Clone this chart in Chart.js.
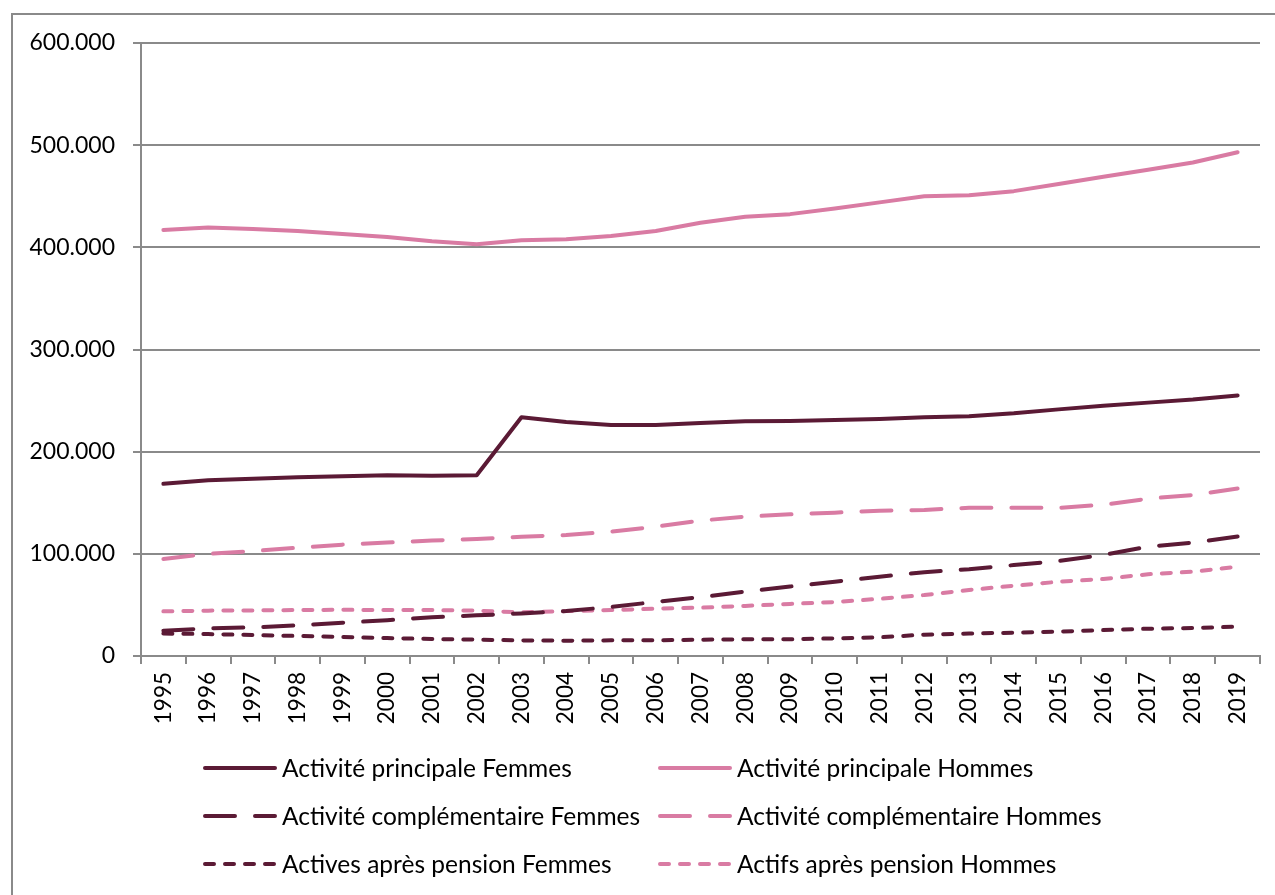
<!DOCTYPE html>
<html>
<head>
<meta charset="utf-8">
<script src="https://cdn.jsdelivr.net/npm/chart.js@4/dist/chart.umd.min.js"></script>
<style>
  html, body { margin: 0; padding: 0; background: #fff; }
  #frame {
    position: absolute; left: 11px; top: 13px; width: 1300px; height: 900px;
    border-top: 2px solid #8a8a8a; border-left: 2px solid #8a8a8a;
  }
  #chart { position: absolute; left: 0; top: 0; }
</style>
</head>
<body>
<div id="frame"></div>
<canvas id="chart" width="1275" height="895"></canvas>
<script>
// Years on the x axis
const years = ['1995', '1996', '1997', '1998', '1999', '2000', '2001', '2002', '2003', '2004',
    '2005', '2006', '2007', '2008', '2009', '2010', '2011', '2012', '2013', '2014',
    '2015', '2016', '2017', '2018', '2019'];

// Values
const principaleFemmes = [168600, 172000, 173600, 175000, 176000, 177000, 176500, 177000, 233600, 229000,
    226000, 226000, 228000, 229700, 230000, 231000, 232000, 233600, 234600, 237500,
    241400, 245000, 248000, 251000, 255000];
const principaleHommes = [417000, 419500, 418000, 416000, 413000, 410000, 406000, 403000, 407000, 408000,
    411000, 416000, 424000, 430000, 432500, 438000, 444000, 450000, 451000, 455000,
    462000, 469000, 476000, 483000, 493000];
const complementaireFemmes = [24800, 27000, 28000, 30000, 32600, 35000, 38000, 39800, 41700, 44000,
    48000, 53000, 57700, 63000, 68000, 72700, 77600, 82000, 85000, 89000,
    93000, 99000, 107000, 111000, 117000];
const complementaireHommes = [95000, 100000, 102700, 106000, 109000, 111000, 113000, 114500, 116800, 118400,
    121700, 126600, 132500, 136400, 138700, 140300, 142200, 143000, 145000, 145000,
    145000, 148000, 154000, 157600, 164000];
const pensionFemmes = [22000, 21500, 20500, 19600, 18600, 17600, 16600, 16000, 15300, 15000,
    15300, 15300, 16000, 16300, 16300, 17300, 18300, 20900, 22000, 22800,
    23800, 25400, 26700, 27400, 28700];
const pensionHommes = [43700, 44400, 44600, 45000, 45200, 45000, 45000, 44400, 42700, 44000,
    45000, 46300, 47300, 49000, 51000, 52800, 56000, 59700, 64600, 68800,
    72700, 75400, 80000, 82500, 87400];

const yTicks = [0, 100000, 200000, 300000, 400000, 500000, 600000];

const DARK = '#5b1a35';
const PINK = '#d97ba3';
const GRID = '#8a8a8a';
const FONT = 'Lato';

const longDash = [30, 20];
const shortDash = [9, 11];

function makeSet(label, values, color, dash) {
    return {
        label: label,
        data: values,
        borderColor: color,
        backgroundColor: color,
        borderWidth: 4,
        borderDash: dash,
        borderCapStyle: 'round',
        borderJoinStyle: 'round',
        pointRadius: 0,
        tension: 0,
        fill: false
    };
}

// Format 600000 -> 600.000
function formatThousands(value) {
    return String(value).replace(/\B(?=(\d{3})+(?!\d))/g, '.');
}

// Legend in two columns under the chart, like the original
const gridLegend = {
    id: 'gridLegend',
    afterDraw(chart) {
        const ctx = chart.ctx;
        const cols = [205, 660];
        const rows = [768, 816, 864];
        ctx.save();
        chart.data.datasets.forEach((ds, i) => {
            const x = cols[i % 2];
            const y = rows[Math.floor(i / 2)];
            ctx.beginPath();
            ctx.strokeStyle = ds.borderColor;
            ctx.lineWidth = ds.borderWidth;
            ctx.lineCap = 'round';
            ctx.setLineDash(ds.borderDash);
            ctx.moveTo(x, y);
            ctx.lineTo(x + 70, y);
            ctx.stroke();
            ctx.setLineDash([]);
            ctx.fillStyle = '#000';
            ctx.font = '24.5px ' + FONT;
            ctx.textBaseline = 'middle';
            ctx.textAlign = 'left';
            ctx.fillText(ds.label, x + 77, y + 1);
        });
        ctx.restore();
    }
};

const ctx = document.getElementById('chart').getContext('2d');
new Chart(ctx, {
    type: 'line',
    data: {
        labels: years,
        datasets: [
            makeSet('Activité principale Femmes', principaleFemmes, DARK, []),
            makeSet('Activité principale Hommes', principaleHommes, PINK, []),
            makeSet('Activité complémentaire Femmes', complementaireFemmes, DARK, longDash),
            makeSet('Activité complémentaire Hommes', complementaireHommes, PINK, longDash),
            makeSet('Actives après pension Femmes', pensionFemmes, DARK, shortDash),
            makeSet('Actifs après pension Hommes', pensionHommes, PINK, shortDash)
        ]
    },
    options: {
        responsive: false,
        animation: false,
        devicePixelRatio: 1,
        layout: { padding: { top: 43, right: 15, bottom: 159, left: 0 } },
        plugins: {
            legend: { display: false },
            tooltip: { enabled: false }
        },
        scales: {
            x: {
                offset: true,
                grid: { offset: true, drawOnChartArea: false, drawTicks: true, tickLength: 8, color: GRID, lineWidth: 2 },
                border: { color: GRID, width: 2 },
                ticks: { minRotation: 90, maxRotation: 90, padding: 8, color: '#000', font: { family: FONT, size: 22.5 } },
                afterFit(scale) { scale.height = 80; }
            },
            y: {
                min: 0,
                max: 600000,
                afterBuildTicks(scale) { scale.ticks = yTicks.map(v => ({ value: v })); },
                grid: { drawTicks: true, tickLength: 8, color: GRID, lineWidth: 2 },
                border: { color: GRID, width: 2 },
                ticks: {
                    padding: 18,
                    color: '#000',
                    font: { family: FONT, size: 23 },
                    callback: v => formatThousands(v)
                },
                afterFit(scale) { scale.width = 141; }
            }
        }
    },
    plugins: [gridLegend]
});
</script>
</body>
</html>
